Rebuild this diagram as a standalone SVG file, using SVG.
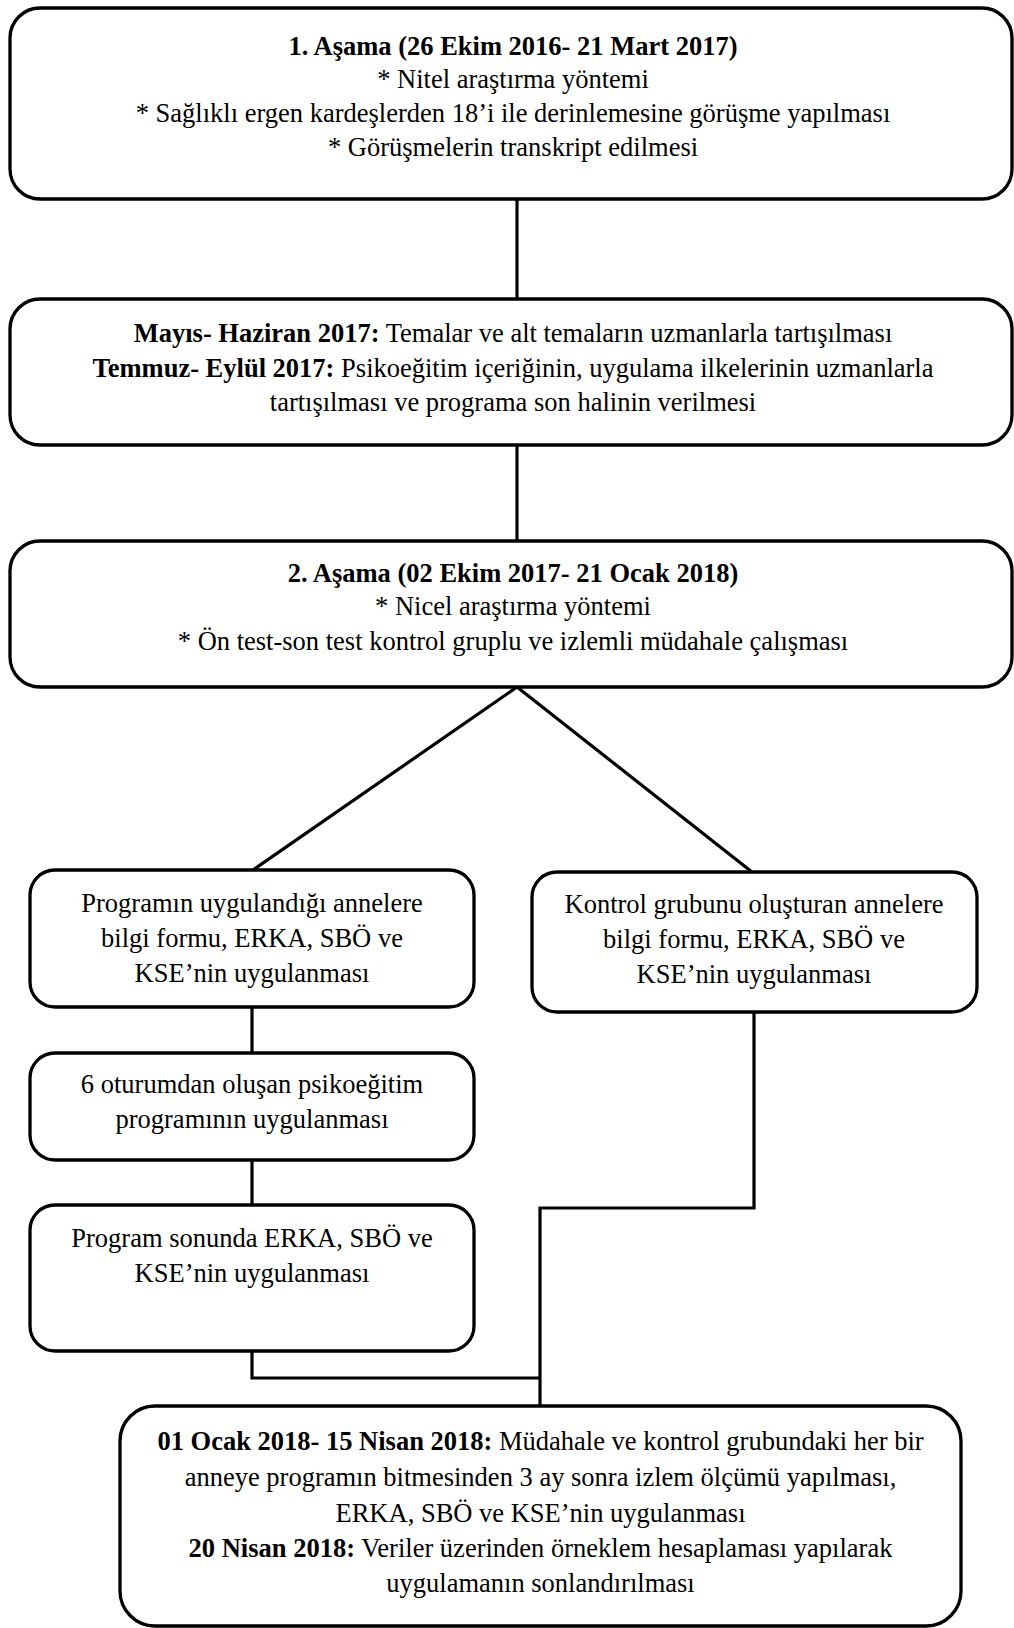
<svg xmlns="http://www.w3.org/2000/svg" width="1014" height="1628" viewBox="0 0 1014 1628">
<style>
.box{fill:#fff;stroke:#000;stroke-width:3.3}
.c{fill:none;stroke:#000;stroke-width:3.2}
text{font-family:"Liberation Serif","Times New Roman",serif;font-size:26.5px;fill:#000;text-anchor:middle}
.b{font-weight:bold}
</style>
<rect width="1014" height="1628" fill="#fff"/>
<g id="connectors">
<path class="c" d="M517,199 V299"/>
<path class="c" d="M517,445 V541"/>
<path class="c" d="M517,687 L253,870"/>
<path class="c" d="M517,687 L752,872"/>
<path class="c" d="M252,1007 V1053"/>
<path class="c" d="M252,1160 V1205"/>
<path class="c" d="M252,1351 V1378 H540"/>
<path class="c" d="M754,1012 V1208 H540 V1406"/>
</g>
<g id="n1">
<rect class="box" x="10" y="8" width="1002" height="191" rx="30"/>
<text x="513" y="55" class="b">1. Aşama (26 Ekim 2016- 21 Mart 2017)</text>
<text x="513" y="88">* Nitel araştırma yöntemi</text>
<text x="513" y="122">* Sağlıklı ergen kardeşlerden 18’i ile derinlemesine görüşme yapılması</text>
<text x="513" y="156">* Görüşmelerin transkript edilmesi</text>
</g>
<g id="n2">
<rect class="box" x="10" y="299" width="1002" height="146" rx="30"/>
<text x="513" y="342"><tspan class="b">Mayıs- Haziran 2017:</tspan> Temalar ve alt temaların uzmanlarla tartışılması</text>
<text x="513" y="377"><tspan class="b">Temmuz- Eylül 2017:</tspan> Psikoeğitim içeriğinin, uygulama ilkelerinin uzmanlarla</text>
<text x="513" y="411">tartışılması ve programa son halinin verilmesi</text>
</g>
<g id="n3">
<rect class="box" x="10" y="541" width="1002" height="146" rx="30"/>
<text x="513" y="582" class="b">2. Aşama (02 Ekim 2017- 21 Ocak 2018)</text>
<text x="513" y="615">* Nicel araştırma yöntemi</text>
<text x="513" y="650">* Ön test-son test kontrol gruplu ve izlemli müdahale çalışması</text>
</g>
<g id="n4">
<rect class="box" x="30" y="870" width="444" height="137" rx="25"/>
<text x="252" y="912">Programın uygulandığı annelere</text>
<text x="252" y="947">bilgi formu, ERKA, SBÖ ve</text>
<text x="252" y="982">KSE’nin uygulanması</text>
</g>
<g id="n5">
<rect class="box" x="532" y="872" width="445" height="140" rx="25"/>
<text x="754" y="913">Kontrol grubunu oluşturan annelere</text>
<text x="754" y="948">bilgi formu, ERKA, SBÖ ve</text>
<text x="754" y="983">KSE’nin uygulanması</text>
</g>
<g id="n6">
<rect class="box" x="30" y="1053" width="444" height="107" rx="25"/>
<text x="252" y="1093">6 oturumdan oluşan psikoeğitim</text>
<text x="252" y="1128">programının uygulanması</text>
</g>
<g id="n7">
<rect class="box" x="30" y="1205" width="444" height="146" rx="25"/>
<text x="252" y="1247">Program sonunda ERKA, SBÖ ve</text>
<text x="252" y="1282">KSE’nin uygulanması</text>
</g>
<g id="n8">
<rect class="box" x="120" y="1406" width="841" height="220" rx="35"/>
<text x="540.5" y="1450"><tspan class="b">01 Ocak 2018- 15 Nisan 2018:</tspan> Müdahale ve kontrol grubundaki her bir</text>
<text x="540.5" y="1486">anneye programın bitmesinden 3 ay sonra izlem ölçümü yapılması,</text>
<text x="540.5" y="1522">ERKA, SBÖ ve KSE’nin uygulanması</text>
<text x="540.5" y="1557"><tspan class="b">20 Nisan 2018:</tspan> Veriler üzerinden örneklem hesaplaması yapılarak</text>
<text x="540.5" y="1592">uygulamanın sonlandırılması</text>
</g>
</svg>
